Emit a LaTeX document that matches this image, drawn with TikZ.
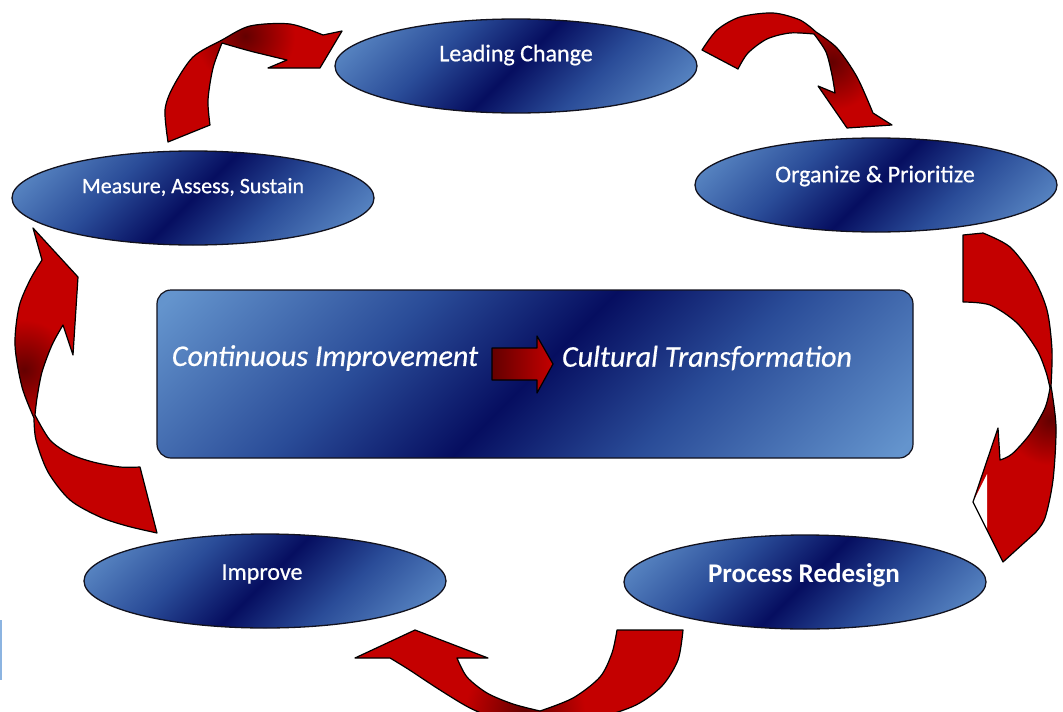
\documentclass[tikz,border=0pt]{standalone}
\usepackage{fontspec}
\setmainfont{Carlito}
\newfontface\stagefont{Carlito}[FakeBold=0.6]
\newfontface\stagefontit{Carlito Italic}[FakeBold=0.6]
\usetikzlibrary{shapes.geometric}

\definecolor{blueL}{RGB}{100,148,205}
\definecolor{blueM}{RGB}{42,76,152}
\definecolor{blueD}{RGB}{6,14,96}
\definecolor{redA}{RGB}{196,0,0}
\definecolor{redD}{RGB}{100,0,0}
\definecolor{rim}{RGB}{18,18,30}
\definecolor{edgeblue}{RGB}{140,180,225}

% light corners, dark band along the rising diagonal
\pgfdeclarehorizontalshading{bluefold}{100bp}{color(0bp)=(blueL); color(16bp)=(blueL); color(36bp)=(blueM); color(50bp)=(blueD); color(64bp)=(blueM); color(84bp)=(blueL); color(100bp)=(blueL)}

\tikzset{
  stage/.style={ellipse, draw=rim, line width=1.3pt, shade, shading=bluefold,
    shading angle=-45, minimum width=362pt, minimum height=94pt, inner sep=0pt},
  stagetext/.style={text=white, font=\stagefont\fontsize{24}{28}\selectfont, inner sep=0pt},
  coretext/.style={text=white, font=\stagefontit\fontsize{30}{34}\selectfont, inner sep=0pt},
  ribbon/.style={draw=black, line width=1.2pt, line join=round},
}

% outlines of the curved red ribbon arrows
\def\ribbonA{plot[smooth] coordinates {(210,125) (208,100) (213,68) (222,43)}
  -- plot[smooth] coordinates {(222,43) (250,51) (287,60)}
  -- (268,68) -- (320,68) -- (342,31)
  -- plot[smooth] coordinates {(323,35) (290,24) (250,26) (222,40) (193,57) (173,87) (165,110) (168,142)} -- cycle}
\def\ribbonB{(702,50) -- (738,69)
  -- plot[smooth] coordinates {(738,69) (748,53) (767,39) (790,33) (814,34)}
  -- plot[smooth] coordinates {(814,34) (826,52) (832,75) (835,93)}
  -- (818,86) -- (847,128) -- (892,125)
  -- plot[smooth] coordinates {(873,113) (857,77) (837,48) (816,32)}
  -- plot[smooth] coordinates {(816,32) (800,20) (773,13) (740,17) (717,30) (702,50)} -- cycle}
\def\ribbonC{(963,235)
  -- plot[smooth] coordinates {(983,233) (1010,247) (1033,277) (1047,310) (1052,350) (1051,386)}
  -- plot[smooth] coordinates {(1051,386) (1056,427) (1053,480) (1045,518) (1035,533)}
  -- (1003,562) -- (973,502) -- (998,428)
  -- plot[smooth] coordinates {(1000,460) (1012,454) (1030,434) (1045,408) (1050,388)}
  -- plot[smooth] coordinates {(1050,388) (1046,372) (1037,350) (1017,323) (990,305) (963,302)} -- cycle}
\def\ribbonD{(617,630) -- (683,630)
  -- plot[smooth] coordinates {(683,630) (678,660) (662,686) (636,705) (600,717) (560,722) (530,723) (500,720) (470,708) (440,690) (408,669) (390,658)}
  -- (355,658) -- (415,630) -- (488,658) -- (457,658)
  -- plot[smooth] coordinates {(457,658) (467,677) (487,693) (513,704) (540,711)}
  -- plot[smooth] coordinates {(540,711) (573,698) (600,677) (612,653) (617,630)} -- cycle}
\def\ribbonE{(33,228) -- (78,277) -- (73,355)
  -- plot[smooth] coordinates {(63,325) (52,345) (42,372) (37,398) (35,415)}
  -- plot[smooth] coordinates {(35,415) (50,440) (70,454) (93,462) (120,467) (140,467)}
  -- (157,533)
  -- plot[smooth] coordinates {(157,533) (127,526) (100,517) (70,500) (48,472) (36,440) (34,418)}
  -- plot[smooth] coordinates {(34,418) (22,387) (15,345) (19,307) (30,280) (42,260)} -- cycle}

\begin{document}
\begin{tikzpicture}[x=1pt, y=-1pt]
  \useasboundingbox (0,0) rectangle (1063,712);
  \clip (0,0) rectangle (1063,712);
  \fill[white] (0,0) rectangle (1063,712);
  \fill[edgeblue] (0,620) rectangle (2,680);

  % central panel
  \node[draw=rim, line width=1.2pt, rounded corners=14pt, shade, shading=bluefold,
        shading angle=-45, minimum width=756pt, minimum height=168pt, inner sep=0pt]
        (core) at (535,374) {};
  \node[coretext] (ci) at (325,358) {Continuous Improvement};
  \node[coretext] (ct) at (707,358) {Cultural Transformation};
  \shade[ribbon, left color=redD, right color=redA]
    (492,348) -- (537,348) -- (537,336) -- (553,364) -- (537,393) -- (537,380) -- (492,380) -- cycle;

  % stages of the cycle
  \node[stage] (lc) at (516,66) {};
  \node[stage] (op) at (876,185) {};
  \node[stage] (pr) at (805,582) {};
  \node[stage] (im) at (265,581) {};
  \node[stage] (mas) at (193,198) {};

  \node[stagetext] (lct) at (516,55) {Leading Change};
  \node[stagetext] (opt) at (875,176) {Organize \& Prioritize};
  \node[stagetext, font=\bfseries\fontsize{27}{31}\selectfont] (prt) at (804,575) {Process Redesign};
  \node[stagetext] (imt) at (262,574) {Improve};
  \node[stagetext, font=\stagefont\fontsize{22}{26}\selectfont] (mast) at (193,187) {Measure, Assess, Sustain};

  % ribbon arrows between the stages
  \begin{scope}
    \clip \ribbonA;
    \fill[redA] (150,0) rectangle (360,150);
    \shade[inner color=redD, outer color=redA] (245,36) circle (50);
  \end{scope}
  \draw[ribbon] \ribbonA;

  \begin{scope}
    \clip \ribbonB;
    \fill[redA] (690,0) rectangle (900,140);
    \shade[inner color=redD, outer color=redA] (832,62) circle (48);
  \end{scope}
  \draw[ribbon] \ribbonB;

  \begin{scope}
    \clip \ribbonC;
    \fill[redA] (950,220) rectangle (1063,580);
    \shade[inner color=redD, outer color=redA] (1050,420) circle (45);
    \fill[white] (973,502) -- (987,474) -- (987,529) -- cycle;
  \end{scope}
  \draw[ribbon] \ribbonC;

  \begin{scope}
    \clip \ribbonD;
    \fill[redA] (340,620) rectangle (700,730);
    \shade[inner color=redD, outer color=redA] (525,712) circle (60);
  \end{scope}
  \draw[ribbon] \ribbonD;

  \begin{scope}
    \clip \ribbonE;
    \fill[redA] (0,220) rectangle (170,540);
    \shade[inner color=redD, outer color=redA] (24,370) circle (50);
  \end{scope}
  \draw[ribbon] \ribbonE;
\end{tikzpicture}
\end{document}
